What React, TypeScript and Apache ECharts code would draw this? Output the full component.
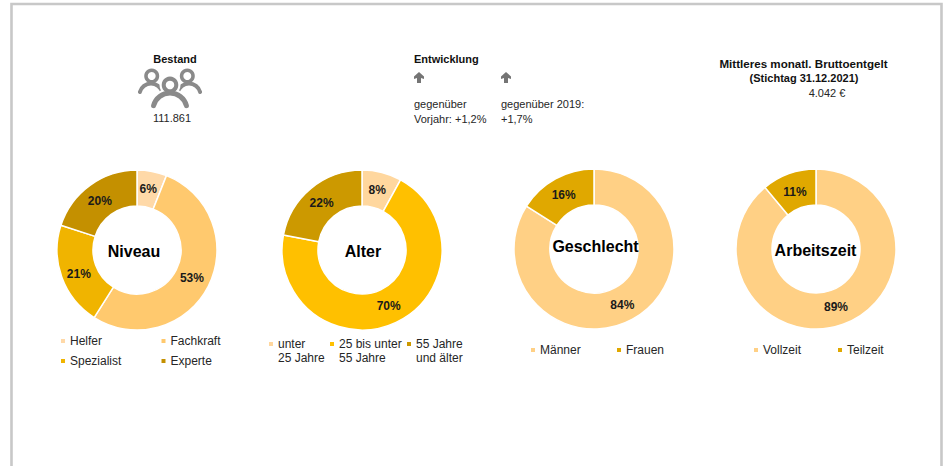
import React, { useEffect, useRef } from "react";
import * as echarts from "echarts";

const niveauNames = ["Helfer", "Fachkraft", "Spezialist", "Experte"];
const niveauValues = [6, 53, 21, 20];
const alterNames = ["unter\n25 Jahre", "25 bis unter\n55 Jahre", "55 Jahre\nund älter"];
const alterValues = [8, 70, 22];
const geschlechtNames = ["Männer", "Frauen"];
const geschlechtValues = [84, 16];
const arbeitszeitNames = ["Vollzeit", "Teilzeit"];
const arbeitszeitValues = [89, 11];

const niveauColors = ["#FFD9A8", "#FFC96E", "#F0B400", "#C49000"];
const alterColors = ["#FFD79E", "#FFC000", "#CC9900"];
const twoColors = ["#FFD085", "#E0A800"];

// small nudges of the percent labels, in pixels
const niveauNudge = [[-1, 3], [-3, -2], [3, 2], [1, 4]];
const alterNudge = [[-1, 3], [-1, -3], [1, 3]];
const geschlechtNudge = [[-3, -1], [1, 3]];
const arbeitszeitNudge = [[-2, -3], [1, 4]];

const FONT = "Liberation Sans, Arial, sans-serif";
const TXT = "#262626";
const ICON = "#8A8A8A";

echarts.graphic.registerShape(
  "upArrow",
  echarts.graphic.extendPath("M5 0 L10 4.5 L10 7 L7 6 L7 11 L3 11 L3 6 L0 7 L0 4.5 Z" as any, {}) as any
);

function pie(center: number[], names: string[], values: number[], colors: string[], nudge: number[][]) {
  return {
    type: "pie",
    center,
    radius: [44, 80],
    startAngle: 90,
    clockwise: true,
    silent: true,
    itemStyle: { borderColor: "#fff", borderWidth: 1.5 },
    label: {
      show: true,
      position: "inner",
      formatter: "{c}%",
      fontFamily: FONT,
      fontSize: 12,
      fontWeight: "bold",
      color: "#1a1a1a",
    },
    labelLine: { show: false },
    data: names.map((n, i) => ({
      name: n,
      value: values[i],
      itemStyle: { color: colors[i] },
      label: { offset: nudge[i] },
    })),
  };
}

function item(name: string, left: number, top: number, twoLines = false) {
  return {
    data: [name],
    left,
    top,
    orient: "horizontal",
    icon: twoLines ? "path://M0 0H4V4H0Z M2 18L2 18Z" : "rect",
    itemWidth: 4,
    itemHeight: twoLines ? 18 : 4,
    itemGap: 0,
    padding: 0,
    selectedMode: false,
    itemStyle: { borderWidth: 0 },
    textStyle: {
      fontFamily: FONT,
      fontSize: 12,
      color: TXT,
      lineHeight: 14,
    },
  };
}

function text(x: number, y: number, t: string, bold = false, align = "left", size = 11) {
  return {
    type: "text",
    x,
    y,
    style: {
      text: t,
      fontFamily: FONT,
      fontSize: size,
      fontWeight: bold ? "bold" : "normal",
      fill: bold ? "#111" : TXT,
      align,
      verticalAlign: "middle",
      lineHeight: 14,
    },
  };
}

function centerText(x: number, y: number, t: string) {
  return {
    type: "text",
    x,
    y,
    z: 10,
    style: {
      text: t,
      fontFamily: FONT,
      fontSize: 16,
      fontWeight: "bold",
      fill: "#000",
      align: "center",
      verticalAlign: "middle",
    },
  };
}

function person(hx: number, hy: number, hr: number, hw: number, bx: number, by: number, br: number, bw: number) {
  return [
    { type: "circle", shape: { cx: hx, cy: hy, r: hr }, style: { fill: "none", stroke: ICON, lineWidth: hw } },
    {
      type: "arc",
      shape: { cx: bx, cy: by, r: br, startAngle: (195 * Math.PI) / 180, endAngle: (345 * Math.PI) / 180, clockwise: true },
      style: { fill: "none", stroke: ICON, lineWidth: bw, lineCap: "round" },
    },
  ];
}

export default function App() {
  const ref = useRef<HTMLDivElement>(null);
  useEffect(() => {
    const chart = echarts.init(ref.current!, null, { renderer: "svg" });
    chart.setOption({
      animation: false,
      backgroundColor: "#fff",
      legend: [
        item(niveauNames[0], 61, 334),
        item(niveauNames[1], 161.5, 334),
        item(niveauNames[2], 61, 354),
        item(niveauNames[3], 161.5, 354),
        item(alterNames[0], 269, 337, true),
        item(alterNames[1], 330, 337, true),
        item(alterNames[2], 407, 337, true),
        item(geschlechtNames[0], 531, 343),
        item(geschlechtNames[1], 617, 343),
        item(arbeitszeitNames[0], 754, 343),
        item(arbeitszeitNames[1], 838, 343),
      ],
      series: [
        pie([137, 250], niveauNames, niveauValues, niveauColors, niveauNudge),
        pie([362, 250], alterNames, alterValues, alterColors, alterNudge),
        pie([594, 249], geschlechtNames, geschlechtValues, twoColors, geschlechtNudge),
        pie([816, 249], arbeitszeitNames, arbeitszeitValues, twoColors, arbeitszeitNudge),
      ],
      graphic: [
        { type: "rect", shape: { x: 11.5, y: 4, width: 930, height: 480 }, style: { fill: "none", stroke: "#C8C8C8", lineWidth: 2.6 }, silent: true },
        text(175, 59, "Bestand", true, "center"),
        ...person(151.7, 76, 5.75, 3.5, 151, 95, 11.5, 4),
        ...person(187.3, 76, 5.75, 3.5, 189, 95, 11.5, 4),
        { type: "circle", shape: { cx: 170, cy: 85, r: 10.5 }, style: { fill: "#fff" } },
        {
          type: "arc",
          shape: { cx: 170, cy: 110, r: 17, startAngle: Math.PI, endAngle: 2 * Math.PI, clockwise: true },
          style: { fill: "none", stroke: "#fff", lineWidth: 9 },
        },
        ...person(170, 85, 6.3, 4, 170, 110, 17, 5),
        text(172, 118, "111.861", false, "center"),
        text(414, 59, "Entwicklung", true),
        { type: "upArrow", x: 414, y: 72, style: { fill: "#757575" } },
        { type: "upArrow", x: 501, y: 72, style: { fill: "#757575" } },
        text(414, 104, "gegenüber"),
        text(414, 119, "Vorjahr: +1,2%"),
        text(501, 104, "gegenüber 2019:"),
        text(501, 119, "+1,7%"),
        text(803.5, 63, "Mittleres monatl. Bruttoentgelt", true, "center", 11.6),
        text(804, 78, "(Stichtag 31.12.2021)", true, "center"),
        text(827, 93, "4.042 €", false, "center"),
        centerText(134, 251, "Niveau"),
        centerText(363, 251, "Alter"),
        centerText(595.5, 246.5, "Geschlecht"),
        centerText(815.5, 250, "Arbeitszeit"),
      ],
    });
    return () => chart.dispose();
  }, []);
  return <div ref={ref} style={{ position: "fixed", left: 0, top: 0, width: 943, height: 466 }} />;
}
